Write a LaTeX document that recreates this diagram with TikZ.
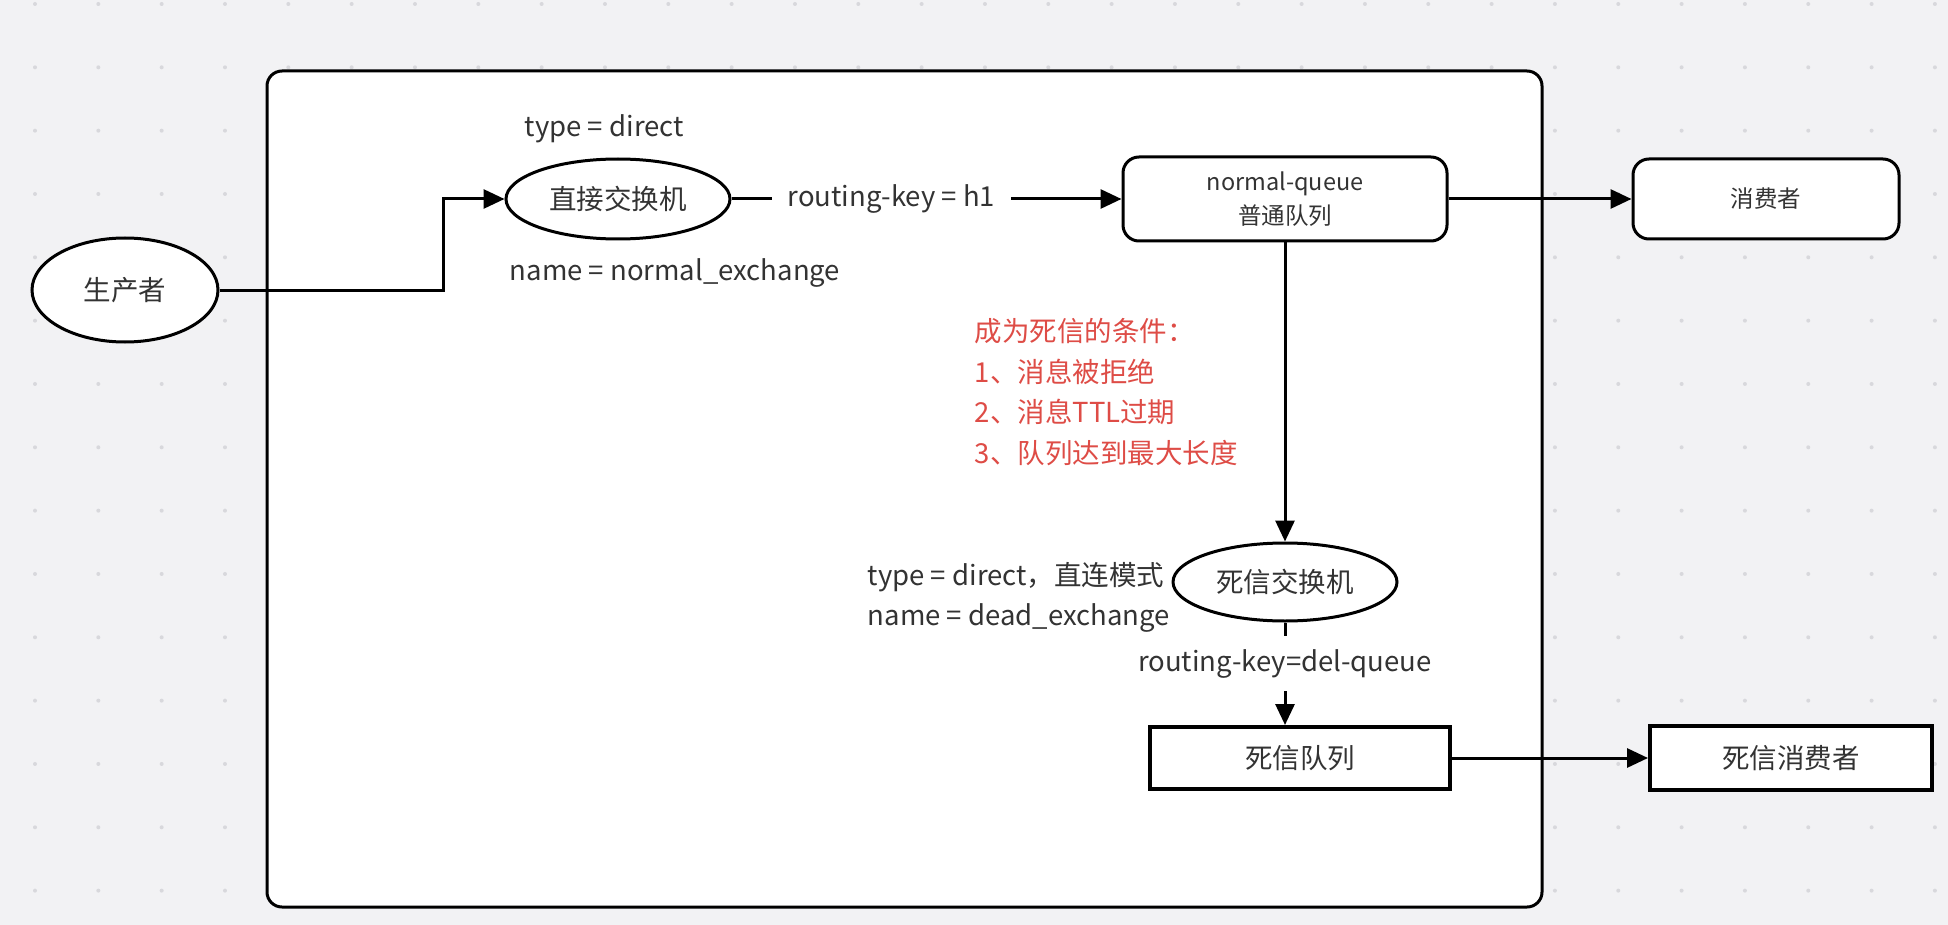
\documentclass[tikz,border=0pt]{standalone}
\usepackage{fontspec}
\setmainfont{Noto Sans CJK SC}
\usetikzlibrary{arrows.meta,shapes.geometric,positioning}
\definecolor{bgcol}{RGB}{242,242,244}
\definecolor{dotcol}{RGB}{216,216,220}
\definecolor{redtxt}{RGB}{222,76,70}
\begin{document}
\begin{tikzpicture}[x=1pt, y=-1pt, line width=3pt,
   every node/.style={font=\fontsize{27.5}{31}\selectfont, text=black!80},
   oval/.style={draw, ellipse, fill=white, inner sep=0pt, minimum width=224pt, minimum height=80pt},
   qbox/.style={draw, rounded corners=16pt, fill=white, align=center, font=\fontsize{23.5}{34}\selectfont},
   dbox/.style={draw, fill=white, line width=4pt},
   link/.style={-{Triangle[length=21pt,width=19pt]}}]
\useasboundingbox (0,0) rectangle (1948,925);
\fill[bgcol] (0,0) rectangle (1948,925);
\foreach \i in {0,...,30}
  \foreach \j in {0,...,14}
    \fill[dotcol] (35+63.33*\i, 4+63.33*\j) circle (2pt);
\node[draw, fill=white, rounded corners=15pt, minimum width=1275pt, minimum height=836pt] (frame) at (904.5,489) {};
\node[oval, minimum width=186pt, minimum height=104pt] (prod) at (125,290) {生产者};
\node[oval] (dex) at (618,199) {直接交换机};
\node[qbox, minimum width=324pt, minimum height=84pt] (nq) at (1285,199) {normal-queue\\普通队列};
\node[qbox, minimum width=266pt, minimum height=80pt] (cons) at (1766,199) {消费者};
\node[oval, minimum height=78pt] (dlx) at (1285,582) {死信交换机};
\node[dbox, minimum width=300pt, minimum height=62pt] (dlq) at (1300,758) {死信队列};
\node[dbox, minimum width=282pt, minimum height=64pt] (dlc) at (1791,758) {死信消费者};
\node[anchor=west] (dextype) at (520,129) {type = direct};
\node[anchor=west] (dexname) at (505,273) {name = normal\_exchange};
\node[anchor=west, align=left, text=redtxt, font=\fontsize{27.5}{40.5}\selectfont] (cond) at (970,392)
  {成为死信的条件：\\1、消息被拒绝\\2、消息TTL过期\\3、队列达到最大长度};
\node[anchor=west] (dlxtype) at (863,577) {type = direct，直连模式};
\node[anchor=west] (dlxname) at (863,618) {name = dead\_exchange};
\draw[link] (prod.east) -- ++(224,0) |- (dex.west);
\draw[link] (dex) -- node[pos=0.41, fill=white, inner xsep=16pt] {routing-key = h1} (nq);
\draw[link] (nq) -- (cons);
\draw[link] (nq) -- (dlx);
\draw[link] (dlx.south) -- node[pos=0.40, fill=white, inner ysep=13pt] {routing-key=del-queue} (dlx.south |- dlq.north);
\draw[link] (dlq) -- (dlc);
\end{tikzpicture}
\end{document}
